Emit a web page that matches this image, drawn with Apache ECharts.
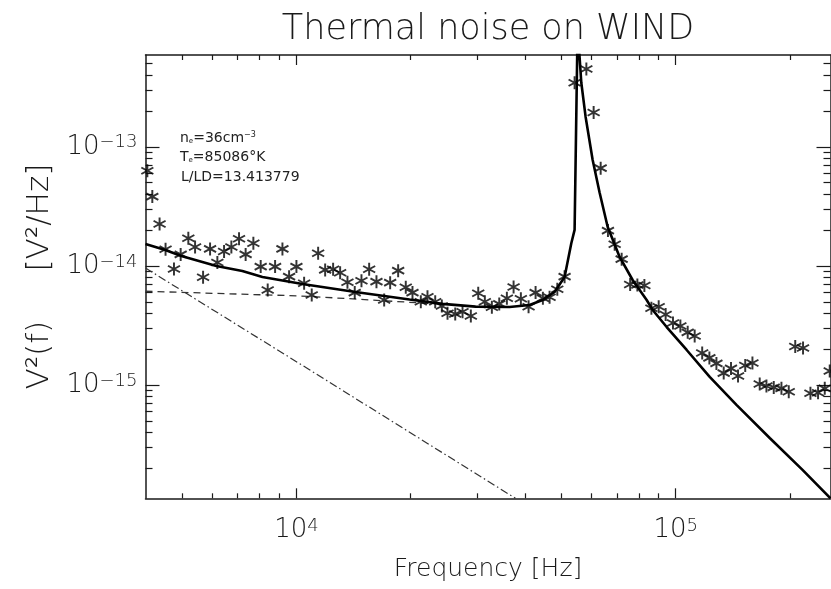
<!DOCTYPE html>
<html><head><meta charset="utf-8">
<script src="https://cdn.jsdelivr.net/npm/echarts@6/dist/echarts.min.js"></script>
<style>html,body{margin:0;padding:0;background:#fff}#c{width:831px;height:589px}</style>
</head><body><div id="c"></div>
<script>
// ---- axis ranges & ticks ----
const freqRange = [4000, 256000];
const psdRange = [1.12e-16, 5.9e-13];
const xMajorTicks = [1e4, 1e5];
const xMinorTicks = [5000,6000,7000,8000,9000,20000,30000,40000,50000,60000,70000,80000,90000,200000];
const yMajorTicks = [1e-15, 1e-14, 1e-13];
const yMinorTicks = [2e-16,3e-16,4e-16,5e-16,6e-16,7e-16,8e-16,9e-16,
  2e-15,3e-15,4e-15,5e-15,6e-15,7e-15,8e-15,9e-15,
  2e-14,3e-14,4e-14,5e-14,6e-14,7e-14,8e-14,9e-14,
  2e-13,3e-13,4e-13,5e-13];

// ---- measured spectrum (asterisks) ----
const measFreq = [4045,4169,4357,4518,4755,4952,5188,5405,5674,5920,
  6188,6445,6737,7058,7347,7700,8050,8400,8786,9186,
  9565,10000,10479,10974,11410,11906,12496,13040,13632,14249,
  14842,15552,16258,17036,17667,18546,19424,20232,21281,22160,
  23227,24176,25028,26226,27416,28833,30158,31393,32761,34264,
  35886,37378,39067,40936,42718,44657,46506,48740,50945,54137,
  58143,60772,63420,66290,69047,72040,75853,79248,82698,86301,
  90204,94094,98378,102900,107570,112230,117470,122720,128070,133860,
  139920,146020,152550,159370,166570,173510,181390,190050,198680,206670,
  216690,226650,237370,247220,254800];
const measPsd = [6.29e-14,3.82e-14,2.25e-14,1.38e-14,9.44e-15,1.25e-14,1.71e-14,1.44e-14,8.04e-15,1.39e-14,
  1.07e-14,1.32e-14,1.44e-14,1.69e-14,1.25e-14,1.55e-14,9.87e-15,6.29e-15,9.87e-15,1.39e-14,
  8.13e-15,9.87e-15,7.16e-15,5.71e-15,1.28e-14,9.26e-15,9.38e-15,8.78e-15,7.29e-15,5.97e-15,
  7.52e-15,9.38e-15,7.38e-15,5.18e-15,7.24e-15,9.13e-15,6.62e-15,5.97e-15,5.01e-15,5.52e-15,
  5.01e-15,4.61e-15,4.00e-15,3.95e-15,4.13e-15,3.80e-15,5.90e-15,5.01e-15,4.50e-15,4.80e-15,
  5.35e-15,6.66e-15,5.30e-15,4.55e-15,5.97e-15,5.35e-15,5.46e-15,6.37e-15,8.13e-15,3.45e-13,
  4.50e-13,1.94e-13,6.62e-14,1.98e-14,1.52e-14,1.14e-14,6.99e-15,6.92e-15,6.86e-15,4.41e-15,
  4.55e-15,3.91e-15,3.32e-15,3.13e-15,2.77e-15,2.58e-15,1.86e-15,1.69e-15,1.52e-15,1.26e-15,
  1.38e-15,1.19e-15,1.46e-15,1.53e-15,1.02e-15,9.81e-16,9.56e-16,9.38e-16,8.78e-16,2.11e-15,
  2.05e-15,8.52e-16,8.62e-16,9.38e-16,1.31e-15];

// ---- total model (solid) ----
const modelFreq = [4000,4512,4973,6151,7202,8135,10371,14310,19873,24280,
  29672,36475,41191,44582,47935,50945,53064,54137,55130,56387,
  57872,60395,63027,66161,71155,77001,83851,86961,94684,106910,
  122950,144860,177000,216330,256000];
const modelPsd = [1.53e-14,1.36e-14,1.21e-14,1.0e-14,9.08e-15,8.08e-15,7.06e-15,6.05e-15,5.23e-15,4.80e-15,
  4.55e-15,4.52e-15,4.70e-15,5.18e-15,6.05e-15,8.08e-15,1.55e-14,2.01e-14,1.0e-12,3.45e-13,
  1.79e-13,7.78e-14,4.11e-14,2.13e-14,1.19e-14,7.62e-15,5.18e-15,4.27e-15,3.07e-15,1.97e-15,
  1.17e-15,6.79e-16,3.59e-16,1.93e-16,1.12e-16];

// ---- plateau component (dashed) ----
const plateauFreq = [4000,10184,14665,21898,25333];
const plateauPsd = [6.13e-15,5.60e-15,5.25e-15,4.86e-15,4.75e-15];

// ---- low-frequency component (dash-dot) ----
const lowFreq = [4000,10800,37800];
const lowPsd = [9.6e-15,1.35e-15,1.12e-16];

// ---- texts ----
const titleText = 'Thermal noise on WIND';
const xName = 'Frequency [Hz]';
const yName = 'V\u00B2(f)     [V\u00B2/Hz]';

const L = Math.log10;
const FONT = "'DejaVu Sans', sans-serif";
const FW = 200;
const INK = '#1a1a1a';
const pts = (fs, vs) => fs.map((f, i) => [L(f), L(vs[i])]);
const supLabel = v => { const e = Math.round(v); return '{b|10}{s|' + (e < 0 ? '\u2212' + (-e) : e) + '}'; };
const labelRich = {
  b: { fontSize: 26, fontFamily: FONT, fontWeight: FW, color: INK },
  s: { fontSize: 18, fontFamily: FONT, fontWeight: FW, color: INK, verticalAlign: 'top' }
};
const star = 'path://M43 0L57 0L57 100L43 100Z M10.5 18.95L96.5 68.95L89.5 81.05L3.5 31.05Z M3.5 68.95L89.5 18.95L96.5 31.05L10.5 81.05Z';

function mkAxis(dim, pos, ticks, len, withLine, withLabels, name) {
  const range = dim === 'x' ? freqRange : psdRange;
  const a = {
    type: 'value', position: pos, gridIndex: 0,
    min: L(range[0]), max: L(range[1]),
    splitLine: { show: false },
    axisLine: { show: withLine, onZero: false, lineStyle: { color: INK, width: 1.5 } },
    axisTick: { show: true, inside: true, length: len, customValues: ticks.map(L), lineStyle: { color: INK, width: 1.2 } },
    axisLabel: { show: false }
  };
  if (withLabels) {
    a.axisLabel = { show: true, customValues: ticks.map(L), formatter: supLabel, rich: labelRich,
      margin: dim === 'x' ? 19 : 8 };
  }
  if (name) {
    a.name = name; a.nameLocation = 'middle';
    a.nameTextStyle = { fontSize: dim === 'x' ? 25 : 31, fontFamily: FONT, fontWeight: FW, color: INK };
    a.nameGap = dim === 'x' ? 59 : 71;
  }
  return a;
}

const option = {
  backgroundColor: '#fff',
  animation: false,
  grid: { left: 145.5, top: 55, width: 685, height: 443.3, containLabel: false, outerBoundsMode: 'none' },
  xAxis: [
    mkAxis('x', 'bottom', xMajorTicks, 10, true, true, xName),
    mkAxis('x', 'bottom', xMinorTicks, 5, false, false),
    mkAxis('x', 'top', xMajorTicks, 10, true, false),
    mkAxis('x', 'top', xMinorTicks, 5, false, false)
  ],
  yAxis: [
    mkAxis('y', 'left', yMajorTicks, 14, true, true, yName),
    mkAxis('y', 'left', yMinorTicks, 7, false, false),
    mkAxis('y', 'right', yMajorTicks, 14, true, false),
    mkAxis('y', 'right', yMinorTicks, 7, false, false)
  ],
  graphic: [
    { type: 'text', x: 488, y: 30, style: { text: titleText, font: FW + ' 35px ' + FONT, fill: INK, align: 'center', verticalAlign: 'middle' } },
    { type: 'text', x: 180, y: 138, style: { text: '{m|n}{sub|e}{m|=36cm}{sup|\u22123}', verticalAlign: 'middle', fill: '#222',
        rich: { m: { fontSize: 14, fontFamily: FONT }, sub: { fontSize: 7, fontFamily: FONT, verticalAlign: 'bottom' }, sup: { fontSize: 8, fontFamily: FONT, verticalAlign: 'top' } } } },
    { type: 'text', x: 180, y: 157, style: { text: '{m|T}{sub|e}{m|=85086\u00B0K}', verticalAlign: 'middle', fill: '#222',
        rich: { m: { fontSize: 14, fontFamily: FONT }, sub: { fontSize: 7, fontFamily: FONT, verticalAlign: 'bottom' } } } },
    { type: 'text', x: 181, y: 177, style: { text: 'L/LD=13.413779', verticalAlign: 'middle', fill: '#222', font: 'normal 14px ' + FONT } }
  ],
  series: [
    { name: 'low-frequency component', type: 'line', data: pts(lowFreq, lowPsd), showSymbol: false, clip: true,
      lineStyle: { color: '#333', width: 1.2, type: [8, 3, 1.5, 3] }, z: 2 },
    { name: 'plateau component', type: 'line', data: pts(plateauFreq, plateauPsd), showSymbol: false, clip: true,
      lineStyle: { color: '#333', width: 1.3, type: [7, 5] }, z: 2 },
    { name: 'measured', type: 'scatter', data: pts(measFreq, measPsd), symbol: star, symbolSize: 13,
      itemStyle: { color: '#000' }, clip: false, z: 3 },
    { name: 'total model', type: 'line', data: pts(modelFreq, modelPsd), showSymbol: false, clip: true,
      lineStyle: { color: '#000', width: 2.6 }, z: 4 }
  ]
};
const chart = echarts.init(document.getElementById('c'));
chart.setOption(option);
</script></body></html>
